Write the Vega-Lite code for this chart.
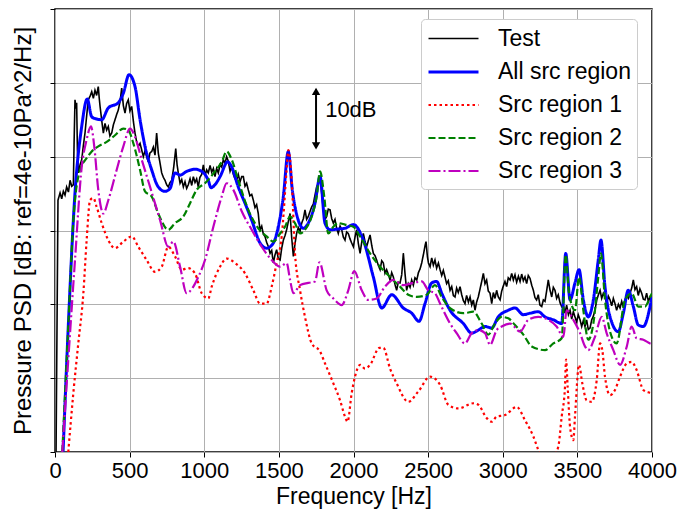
{
  "$schema": "https://vega.github.io/schema/vega-lite/v6.json",
  "width": 597,
  "height": 443,
  "autosize": {"type": "none"},
  "padding": {"left": 55, "top": 9, "right": 26, "bottom": 64},
  "background": "white",
  "config": {
    "font": "Liberation Sans",
    "view": {"stroke": "black", "strokeWidth": 1.5},
    "axis": {
      "gridColor": "#b0b0b0", "gridWidth": 1, "gridOpacity": 1,
      "tickColor": "black", "tickSize": 5, "tickWidth": 1,
      "domain": false,
      "labelFontSize": 22, "titleFontSize": 23,
      "labelColor": "black", "titleColor": "black",
      "titleFontWeight": "normal", "labelFont": "Liberation Sans", "titleFont": "Liberation Sans"
    },
    "legend": {
      "title": null, "orient": "none", "legendX": 366, "legendY": 10,
      "fillColor": "white", "strokeColor": "#cccccc", "cornerRadius": 4, "padding": 6,
      "labelFontSize": 23, "labelColor": "black", "labelFont": "Liberation Sans",
      "symbolType": "M-1,0H3", "symbolSize": 625, "labelOffset": 43, "rowPadding": 7,
      "symbolFillColor": "transparent"
    }
  },
  "datasets": {
    "test": [
      {"f":7,"v":0},{"f":20,"v":34.1},{"f":34,"v":35.1},{"f":45,"v":34.3},{"f":56,"v":35.3},{"f":67,"v":34.8},{"f":78,"v":35.9},{"f":90,"v":35.2},{"f":101,"v":36.8},{"f":112,"v":36.0},{"f":123,"v":36.2},{"f":128,"v":42.0},{"f":134,"v":47.7},{"f":140,"v":46.5},{"f":145,"v":47.3},{"f":150,"v":41.0},{"f":156,"v":37.8},{"f":168,"v":38.9},{"f":179,"v":39.6},{"f":190,"v":41.5},{"f":201,"v":43.2},{"f":212,"v":45.5},{"f":223,"v":47.7},{"f":235,"v":48.2},{"f":246,"v":48.8},{"f":257,"v":47.9},{"f":268,"v":49.0},{"f":279,"v":48.3},{"f":290,"v":49.5},{"f":296,"v":48.0},{"f":302,"v":46.8},{"f":313,"v":44.9},{"f":324,"v":43.2},{"f":335,"v":44.5},{"f":346,"v":43.6},{"f":357,"v":44.1},{"f":368,"v":42.8},{"f":380,"v":43.2},{"f":391,"v":44.3},{"f":402,"v":45.0},{"f":413,"v":45.7},{"f":424,"v":46.3},{"f":436,"v":47.5},{"f":447,"v":49.3},{"f":458,"v":46.9},{"f":469,"v":45.9},{"f":480,"v":47.2},{"f":491,"v":47.7},{"f":502,"v":46.2},{"f":514,"v":46.8},{"f":525,"v":44.8},{"f":536,"v":43.2},{"f":547,"v":42.0},{"f":558,"v":41.4},{"f":570,"v":41.8},{"f":581,"v":40.9},{"f":592,"v":40.0},{"f":603,"v":40.8},{"f":614,"v":40.0},{"f":625,"v":39.3},{"f":636,"v":40.5},{"f":648,"v":40.7},{"f":659,"v":41.3},{"f":670,"v":40.2},{"f":681,"v":43.2},{"f":692,"v":40.5},{"f":704,"v":39.1},{"f":715,"v":37.8},{"f":726,"v":37.2},{"f":737,"v":36.8},{"f":748,"v":36.2},{"f":759,"v":35.9},{"f":771,"v":36.5},{"f":782,"v":36.8},{"f":795,"v":38.5},{"f":809,"v":41.1},{"f":818,"v":38.9},{"f":826,"v":37.8},{"f":838,"v":36.4},{"f":849,"v":36.9},{"f":860,"v":35.9},{"f":871,"v":36.6},{"f":882,"v":35.7},{"f":893,"v":36.2},{"f":905,"v":37.0},{"f":916,"v":36.1},{"f":927,"v":37.3},{"f":938,"v":36.5},{"f":949,"v":37.0},{"f":960,"v":35.9},{"f":971,"v":37.2},{"f":983,"v":37.6},{"f":994,"v":38.9},{"f":1005,"v":37.4},{"f":1016,"v":38.2},{"f":1027,"v":37.8},{"f":1039,"v":38.8},{"f":1050,"v":37.9},{"f":1061,"v":38.4},{"f":1072,"v":37.3},{"f":1083,"v":38.4},{"f":1094,"v":37.8},{"f":1106,"v":38.9},{"f":1117,"v":38.6},{"f":1128,"v":39.6},{"f":1139,"v":39.1},{"f":1150,"v":40.0},{"f":1161,"v":39.4},{"f":1173,"v":38.0},{"f":1184,"v":38.6},{"f":1195,"v":37.6},{"f":1206,"v":37.0},{"f":1217,"v":36.8},{"f":1228,"v":37.6},{"f":1240,"v":36.6},{"f":1251,"v":37.3},{"f":1262,"v":37.3},{"f":1273,"v":36.0},{"f":1284,"v":36.4},{"f":1295,"v":35.5},{"f":1306,"v":34.7},{"f":1318,"v":34.9},{"f":1329,"v":34.1},{"f":1340,"v":33.1},{"f":1351,"v":33.5},{"f":1362,"v":32.3},{"f":1368,"v":31.0},{"f":1374,"v":30.1},{"f":1385,"v":30.6},{"f":1396,"v":29.5},{"f":1407,"v":29.2},{"f":1418,"v":28.4},{"f":1430,"v":27.8},{"f":1441,"v":26.9},{"f":1452,"v":27.3},{"f":1463,"v":25.6},{"f":1474,"v":26.7},{"f":1485,"v":27.4},{"f":1496,"v":26.2},{"f":1508,"v":26.0},{"f":1519,"v":27.6},{"f":1530,"v":28.7},{"f":1541,"v":29.3},{"f":1552,"v":30.1},{"f":1563,"v":31.2},{"f":1575,"v":32.3},{"f":1586,"v":29.0},{"f":1597,"v":26.5},{"f":1608,"v":28.2},{"f":1619,"v":29.6},{"f":1630,"v":30.4},{"f":1642,"v":29.9},{"f":1653,"v":31.0},{"f":1664,"v":31.6},{"f":1675,"v":32.8},{"f":1686,"v":31.5},{"f":1697,"v":31.9},{"f":1709,"v":32.6},{"f":1720,"v":33.2},{"f":1731,"v":33.6},{"f":1742,"v":34.8},{"f":1753,"v":35.9},{"f":1765,"v":36.4},{"f":1776,"v":37.3},{"f":1787,"v":35.0},{"f":1798,"v":32.8},{"f":1809,"v":31.5},{"f":1820,"v":31.9},{"f":1831,"v":32.9},{"f":1843,"v":32.8},{"f":1854,"v":31.6},{"f":1865,"v":31.0},{"f":1876,"v":31.5},{"f":1887,"v":30.3},{"f":1898,"v":29.6},{"f":1910,"v":30.6},{"f":1921,"v":30.1},{"f":1932,"v":29.1},{"f":1943,"v":28.7},{"f":1954,"v":29.8},{"f":1965,"v":29.6},{"f":1976,"v":28.9},{"f":1988,"v":28.3},{"f":1999,"v":27.8},{"f":2010,"v":29.1},{"f":2021,"v":30.1},{"f":2032,"v":28.3},{"f":2044,"v":26.9},{"f":2055,"v":28.4},{"f":2066,"v":29.6},{"f":2077,"v":28.5},{"f":2088,"v":27.8},{"f":2099,"v":28.6},{"f":2111,"v":29.4},{"f":2122,"v":28.0},{"f":2133,"v":26.9},{"f":2144,"v":26.6},{"f":2155,"v":26.0},{"f":2166,"v":25.3},{"f":2178,"v":24.7},{"f":2189,"v":25.9},{"f":2200,"v":25.6},{"f":2211,"v":24.2},{"f":2222,"v":24.7},{"f":2234,"v":24.0},{"f":2245,"v":23.3},{"f":2256,"v":24.3},{"f":2267,"v":23.7},{"f":2278,"v":22.7},{"f":2289,"v":21.9},{"f":2300,"v":23.0},{"f":2312,"v":22.9},{"f":2323,"v":24.0},{"f":2334,"v":26.9},{"f":2345,"v":24.2},{"f":2356,"v":21.9},{"f":2367,"v":22.8},{"f":2379,"v":22.3},{"f":2390,"v":23.3},{"f":2401,"v":22.6},{"f":2412,"v":23.6},{"f":2424,"v":23.3},{"f":2435,"v":24.3},{"f":2446,"v":24.8},{"f":2457,"v":25.6},{"f":2469,"v":26.8},{"f":2480,"v":28.0},{"f":2486,"v":28.5},{"f":2495,"v":26.5},{"f":2502,"v":25.6},{"f":2513,"v":25.1},{"f":2524,"v":26.3},{"f":2535,"v":25.3},{"f":2546,"v":26.0},{"f":2557,"v":24.9},{"f":2569,"v":25.6},{"f":2580,"v":24.7},{"f":2591,"v":23.9},{"f":2602,"v":24.6},{"f":2613,"v":23.7},{"f":2624,"v":22.8},{"f":2635,"v":23.2},{"f":2647,"v":21.9},{"f":2658,"v":22.4},{"f":2669,"v":21.2},{"f":2680,"v":21.0},{"f":2691,"v":22.2},{"f":2702,"v":21.6},{"f":2714,"v":22.4},{"f":2725,"v":21.3},{"f":2736,"v":20.5},{"f":2747,"v":20.1},{"f":2758,"v":21.2},{"f":2770,"v":20.3},{"f":2781,"v":21.0},{"f":2792,"v":19.9},{"f":2803,"v":20.6},{"f":2814,"v":19.2},{"f":2825,"v":20.3},{"f":2836,"v":21.0},{"f":2847,"v":22.0},{"f":2859,"v":23.1},{"f":2870,"v":24.2},{"f":2881,"v":22.8},{"f":2892,"v":23.3},{"f":2903,"v":21.8},{"f":2915,"v":21.5},{"f":2926,"v":20.1},{"f":2937,"v":21.6},{"f":2948,"v":20.8},{"f":2959,"v":21.9},{"f":2970,"v":21.0},{"f":2982,"v":20.6},{"f":2993,"v":21.8},{"f":3004,"v":22.5},{"f":3015,"v":23.1},{"f":3026,"v":22.4},{"f":3037,"v":23.6},{"f":3049,"v":23.3},{"f":3060,"v":24.2},{"f":3071,"v":23.3},{"f":3082,"v":24.0},{"f":3093,"v":23.0},{"f":3105,"v":23.8},{"f":3116,"v":23.1},{"f":3127,"v":24.1},{"f":3138,"v":23.2},{"f":3149,"v":23.7},{"f":3160,"v":22.8},{"f":3171,"v":23.9},{"f":3183,"v":23.5},{"f":3194,"v":22.6},{"f":3205,"v":21.9},{"f":3216,"v":20.9},{"f":3227,"v":20.6},{"f":3238,"v":21.3},{"f":3249,"v":19.9},{"f":3261,"v":19.7},{"f":3272,"v":20.6},{"f":3283,"v":20.4},{"f":3294,"v":21.8},{"f":3305,"v":23.3},{"f":3316,"v":22.0},{"f":3328,"v":21.0},{"f":3339,"v":22.3},{"f":3350,"v":21.9},{"f":3361,"v":20.8},{"f":3372,"v":21.3},{"f":3384,"v":20.2},{"f":3395,"v":19.7},{"f":3406,"v":19.9},{"f":3417,"v":18.8},{"f":3428,"v":19.9},{"f":3440,"v":18.6},{"f":3451,"v":19.2},{"f":3462,"v":18.0},{"f":3473,"v":19.0},{"f":3484,"v":18.3},{"f":3495,"v":17.6},{"f":3506,"v":18.6},{"f":3518,"v":17.9},{"f":3529,"v":17.0},{"f":3540,"v":17.8},{"f":3551,"v":17.0},{"f":3562,"v":17.9},{"f":3573,"v":16.6},{"f":3585,"v":16.8},{"f":3596,"v":17.9},{"f":3607,"v":18.4},{"f":3618,"v":19.2},{"f":3630,"v":20.6},{"f":3641,"v":21.3},{"f":3652,"v":21.9},{"f":3663,"v":20.8},{"f":3674,"v":21.5},{"f":3685,"v":21.0},{"f":3696,"v":20.1},{"f":3708,"v":21.1},{"f":3719,"v":20.6},{"f":3730,"v":19.8},{"f":3741,"v":20.8},{"f":3752,"v":20.1},{"f":3763,"v":19.2},{"f":3775,"v":20.0},{"f":3786,"v":19.5},{"f":3797,"v":20.4},{"f":3808,"v":19.6},{"f":3819,"v":20.6},{"f":3830,"v":21.2},{"f":3842,"v":20.8},{"f":3853,"v":21.5},{"f":3864,"v":22.2},{"f":3875,"v":23.3},{"f":3886,"v":22.0},{"f":3897,"v":22.4},{"f":3908,"v":21.2},{"f":3919,"v":22.1},{"f":3931,"v":21.5},{"f":3942,"v":20.7},{"f":3953,"v":20.6},{"f":3964,"v":21.5},{"f":3976,"v":20.4},{"f":3987,"v":21.0},{"f":4000,"v":20.6}
    ],
    "blue": [
      {"f":54,"v":0},{"f":89,"v":17.0},{"f":134,"v":35.1},{"f":179,"v":44.1},{"f":216,"v":47.8},{"f":246,"v":45.4},{"f":279,"v":45.1},{"f":313,"v":45.0},{"f":357,"v":46.6},{"f":424,"v":47.3},{"f":458,"v":48.6},{"f":496,"v":51.1},{"f":536,"v":49.5},{"f":570,"v":45.0},{"f":603,"v":41.4},{"f":648,"v":38.2},{"f":692,"v":35.9},{"f":737,"v":35.3},{"f":771,"v":35.7},{"f":804,"v":37.8},{"f":838,"v":37.5},{"f":882,"v":38.0},{"f":938,"v":38.3},{"f":983,"v":38.0},{"f":1027,"v":36.8},{"f":1045,"v":35.8},{"f":1072,"v":36.2},{"f":1106,"v":37.3},{"f":1157,"v":39.3},{"f":1184,"v":38.6},{"f":1228,"v":35.9},{"f":1273,"v":33.7},{"f":1318,"v":31.4},{"f":1374,"v":28.3},{"f":1418,"v":27.6},{"f":1463,"v":28.3},{"f":1496,"v":30.5},{"f":1530,"v":34.6},{"f":1563,"v":40.7},{"f":1590,"v":35.5},{"f":1630,"v":31.4},{"f":1664,"v":30.3},{"f":1697,"v":31.0},{"f":1742,"v":33.7},{"f":1776,"v":37.3},{"f":1809,"v":31.0},{"f":1843,"v":30.1},{"f":1898,"v":30.2},{"f":1943,"v":30.3},{"f":1999,"v":30.8},{"f":2066,"v":28.7},{"f":2133,"v":23.7},{"f":2189,"v":19.5},{"f":2256,"v":21.3},{"f":2334,"v":19.5},{"f":2390,"v":18.8},{"f":2439,"v":17.7},{"f":2479,"v":20.1},{"f":2524,"v":22.9},{"f":2557,"v":23.1},{"f":2591,"v":21.5},{"f":2647,"v":19.2},{"f":2736,"v":17.4},{"f":2792,"v":16.1},{"f":2836,"v":16.5},{"f":2881,"v":17.0},{"f":2926,"v":16.8},{"f":2970,"v":18.3},{"f":3037,"v":19.2},{"f":3082,"v":19.5},{"f":3138,"v":18.6},{"f":3183,"v":18.8},{"f":3238,"v":19.0},{"f":3283,"v":18.3},{"f":3339,"v":17.9},{"f":3395,"v":17.4},{"f":3422,"v":26.9},{"f":3451,"v":20.6},{"f":3484,"v":22.9},{"f":3511,"v":24.7},{"f":3540,"v":20.6},{"f":3573,"v":18.3},{"f":3607,"v":20.6},{"f":3640,"v":26.0},{"f":3658,"v":28.7},{"f":3685,"v":22.4},{"f":3719,"v":18.3},{"f":3774,"v":16.3},{"f":3808,"v":18.8},{"f":3841,"v":21.9},{"f":3875,"v":19.7},{"f":3908,"v":17.2},{"f":3942,"v":17.0},{"f":3987,"v":19.7},{"f":4000,"v":21.0}
    ],
    "red": [
      {"f":89,"v":0},{"f":123,"v":8.0},{"f":156,"v":14.7},{"f":190,"v":21.5},{"f":212,"v":28.7},{"f":235,"v":34.1},{"f":257,"v":34.4},{"f":279,"v":33.2},{"f":313,"v":31.0},{"f":357,"v":28.7},{"f":402,"v":27.6},{"f":458,"v":28.5},{"f":514,"v":29.2},{"f":558,"v":27.8},{"f":614,"v":26.0},{"f":670,"v":24.4},{"f":715,"v":25.1},{"f":759,"v":27.8},{"f":804,"v":26.5},{"f":849,"v":24.7},{"f":893,"v":24.9},{"f":938,"v":24.2},{"f":983,"v":21.5},{"f":1027,"v":20.8},{"f":1050,"v":22.4},{"f":1106,"v":25.1},{"f":1150,"v":26.2},{"f":1206,"v":25.6},{"f":1273,"v":24.2},{"f":1329,"v":21.9},{"f":1374,"v":20.1},{"f":1418,"v":20.1},{"f":1452,"v":22.4},{"f":1485,"v":25.6},{"f":1519,"v":29.2},{"f":1552,"v":38.2},{"f":1563,"v":40.9},{"f":1586,"v":36.8},{"f":1608,"v":26.9},{"f":1642,"v":21.9},{"f":1675,"v":18.3},{"f":1720,"v":14.7},{"f":1776,"v":13.6},{"f":1809,"v":12.0},{"f":1865,"v":9.3},{"f":1910,"v":7.0},{"f":1943,"v":4.8},{"f":1960,"v":4.1},{"f":1988,"v":8.0},{"f":2010,"v":10.2},{"f":2044,"v":11.8},{"f":2077,"v":11.3},{"f":2111,"v":11.8},{"f":2173,"v":14.1},{"f":2200,"v":14.1},{"f":2245,"v":11.3},{"f":2289,"v":9.3},{"f":2367,"v":6.8},{"f":2434,"v":8.2},{"f":2513,"v":10.2},{"f":2580,"v":9.1},{"f":2635,"v":6.4},{"f":2702,"v":5.9},{"f":2803,"v":6.6},{"f":2836,"v":6.4},{"f":2892,"v":4.6},{"f":2926,"v":4.1},{"f":2959,"v":4.8},{"f":3015,"v":5.0},{"f":3094,"v":6.1},{"f":3149,"v":4.3},{"f":3205,"v":2.1},{"f":3234,"v":0.5},{"f":3283,"v":-2},{"f":3330,"v":-1},{"f":3372,"v":0.7},{"f":3395,"v":4.8},{"f":3417,"v":8.8},{"f":3424,"v":12.5},{"f":3435,"v":8.8},{"f":3451,"v":3.4},{"f":3473,"v":1.6},{"f":3484,"v":4.8},{"f":3511,"v":11.8},{"f":3533,"v":9.3},{"f":3562,"v":7.0},{"f":3596,"v":6.8},{"f":3630,"v":9.8},{"f":3652,"v":14.7},{"f":3667,"v":13.8},{"f":3685,"v":10.2},{"f":3719,"v":7.7},{"f":3752,"v":8.4},{"f":3786,"v":10.2},{"f":3831,"v":12.0},{"f":3864,"v":12.2},{"f":3897,"v":11.1},{"f":3942,"v":8.4},{"f":3987,"v":8.0},{"f":4000,"v":7.9}
    ],
    "green": [
      {"f":49,"v":0},{"f":89,"v":17.0},{"f":123,"v":31.4},{"f":168,"v":38.2},{"f":212,"v":39.8},{"f":246,"v":40.7},{"f":290,"v":41.4},{"f":346,"v":42.0},{"f":402,"v":42.9},{"f":458,"v":43.8},{"f":491,"v":43.6},{"f":525,"v":41.8},{"f":570,"v":38.2},{"f":603,"v":35.3},{"f":648,"v":34.6},{"f":692,"v":32.3},{"f":759,"v":30.1},{"f":804,"v":31.0},{"f":860,"v":31.9},{"f":905,"v":33.7},{"f":949,"v":35.5},{"f":1005,"v":36.4},{"f":1072,"v":38.0},{"f":1117,"v":39.3},{"f":1150,"v":40.7},{"f":1184,"v":39.6},{"f":1228,"v":36.8},{"f":1295,"v":32.8},{"f":1362,"v":30.3},{"f":1418,"v":29.2},{"f":1463,"v":28.5},{"f":1508,"v":29.6},{"f":1541,"v":30.5},{"f":1575,"v":31.9},{"f":1608,"v":31.0},{"f":1642,"v":29.6},{"f":1675,"v":30.1},{"f":1720,"v":31.9},{"f":1753,"v":34.6},{"f":1776,"v":38.0},{"f":1804,"v":34.6},{"f":1831,"v":29.6},{"f":1865,"v":30.5},{"f":1898,"v":31.0},{"f":1943,"v":30.8},{"f":1999,"v":30.5},{"f":2044,"v":29.2},{"f":2111,"v":26.9},{"f":2178,"v":25.1},{"f":2245,"v":23.7},{"f":2312,"v":22.4},{"f":2367,"v":21.3},{"f":2424,"v":21.0},{"f":2491,"v":21.3},{"f":2546,"v":22.6},{"f":2591,"v":21.0},{"f":2647,"v":19.5},{"f":2736,"v":18.8},{"f":2803,"v":19.0},{"f":2859,"v":17.4},{"f":2903,"v":15.9},{"f":2948,"v":17.4},{"f":2993,"v":18.3},{"f":3037,"v":18.1},{"f":3082,"v":17.2},{"f":3138,"v":15.9},{"f":3194,"v":14.3},{"f":3283,"v":13.8},{"f":3339,"v":14.7},{"f":3395,"v":15.4},{"f":3422,"v":26.7},{"f":3444,"v":21.5},{"f":3484,"v":19.2},{"f":3511,"v":23.7},{"f":3540,"v":19.2},{"f":3573,"v":15.2},{"f":3607,"v":17.4},{"f":3640,"v":23.7},{"f":3658,"v":26.9},{"f":3685,"v":20.6},{"f":3719,"v":16.3},{"f":3763,"v":14.7},{"f":3819,"v":20.6},{"f":3864,"v":21.5},{"f":3908,"v":19.7},{"f":3953,"v":19.7},{"f":3987,"v":21.0},{"f":4000,"v":21.5}
    ],
    "magenta": [
      {"f":49,"v":0},{"f":89,"v":12.5},{"f":134,"v":26.0},{"f":179,"v":38.6},{"f":212,"v":42.3},{"f":241,"v":44.1},{"f":263,"v":41.4},{"f":290,"v":35.5},{"f":324,"v":32.3},{"f":357,"v":34.1},{"f":413,"v":38.2},{"f":458,"v":41.4},{"f":503,"v":43.8},{"f":536,"v":42.7},{"f":581,"v":39.6},{"f":637,"v":35.9},{"f":704,"v":31.4},{"f":759,"v":27.8},{"f":793,"v":28.5},{"f":838,"v":25.1},{"f":882,"v":21.5},{"f":927,"v":22.4},{"f":960,"v":23.7},{"f":1005,"v":26.0},{"f":1061,"v":30.5},{"f":1117,"v":34.6},{"f":1150,"v":36.4},{"f":1195,"v":35.5},{"f":1251,"v":32.6},{"f":1318,"v":30.1},{"f":1385,"v":27.8},{"f":1452,"v":26.0},{"f":1508,"v":25.1},{"f":1552,"v":25.6},{"f":1575,"v":23.3},{"f":1597,"v":21.5},{"f":1642,"v":22.6},{"f":1697,"v":22.9},{"f":1742,"v":23.1},{"f":1772,"v":25.7},{"f":1820,"v":21.9},{"f":1865,"v":20.8},{"f":1921,"v":19.9},{"f":1965,"v":21.9},{"f":2005,"v":24.5},{"f":2055,"v":21.9},{"f":2099,"v":20.6},{"f":2155,"v":20.8},{"f":2211,"v":22.4},{"f":2267,"v":23.3},{"f":2334,"v":22.6},{"f":2401,"v":22.9},{"f":2457,"v":23.1},{"f":2501,"v":21.9},{"f":2546,"v":21.5},{"f":2580,"v":20.1},{"f":2647,"v":17.4},{"f":2691,"v":16.1},{"f":2747,"v":14.7},{"f":2792,"v":16.1},{"f":2836,"v":16.5},{"f":2881,"v":16.1},{"f":2915,"v":14.5},{"f":2959,"v":16.5},{"f":2993,"v":17.0},{"f":3049,"v":17.4},{"f":3116,"v":16.3},{"f":3171,"v":17.9},{"f":3238,"v":18.3},{"f":3305,"v":17.9},{"f":3361,"v":17.0},{"f":3406,"v":15.6},{"f":3428,"v":19.2},{"f":3473,"v":17.9},{"f":3518,"v":16.1},{"f":3551,"v":14.3},{"f":3573,"v":13.8},{"f":3618,"v":15.6},{"f":3663,"v":18.3},{"f":3696,"v":16.1},{"f":3741,"v":13.8},{"f":3786,"v":11.8},{"f":3831,"v":14.3},{"f":3864,"v":17.0},{"f":3897,"v":15.4},{"f":3942,"v":15.2},{"f":3987,"v":14.7},{"f":4000,"v":14.6}
    ],
    "arrow": [{"f":1749,"v":41.2,"v2":49.1}],
    "heads": [{"f":1749,"v":48.85,"sh":"triangle-up"},{"f":1749,"v":41.45,"sh":"triangle-down"}],
    "note": [{"f":1810,"v":46.3,"t":"10dB"}]
  },
  "encoding": {
    "x": {"field": "f", "type": "quantitative", "scale": {"domain": [0, 4000], "nice": false},
      "axis": {"values": [0,500,1000,1500,2000,2500,3000,3500,4000], "format": "d", "title": "Frequency [Hz]", "labelPadding": 3, "titlePadding": 4, "labelFlush": false, "labelOverlap": false}},
    "y": {"field": "v", "type": "quantitative", "scale": {"domain": [0, 60], "nice": false},
      "axis": {"values": [0,10,20,30,40,50,60], "labels": false, "title": "Pressure PSD [dB: ref=4e-10Pa^2/Hz]", "titleFontSize": 24, "titlePadding": 14}}
  },
  "layer": [
    {
      "data": {"name": "test"},
      "transform": [{"calculate": "'Test'", "as": "s"}],
      "mark": {"type": "line", "clip": true, "interpolate": "linear"},
      "encoding": {
        "color": {"field": "s", "type": "nominal", "scale": {"domain": ["Test","All src region","Src region 1","Src region 2","Src region 3"], "range": ["#000000","#0000ff","#ff0000","#008000","#bf00bf"]}},
        "strokeDash": {"field": "s", "type": "nominal", "scale": {"domain": ["Test","All src region","Src region 1","Src region 2","Src region 3"], "range": [[1,0],[1,0],[2.5,3],[7,3],[12,3,2,3]]}},
        "strokeWidth": {"field": "s", "type": "nominal", "scale": {"type": "ordinal", "domain": ["Test","All src region","Src region 1","Src region 2","Src region 3"], "range": [1.6,3,2.2,2.2,2.2]}}
      }
    },
    {
      "data": {"name": "blue"},
      "transform": [{"calculate": "'All src region'", "as": "s"}],
      "mark": {"type": "line", "clip": true, "interpolate": "monotone"},
      "encoding": {
        "color": {"field": "s", "type": "nominal"},
        "strokeDash": {"field": "s", "type": "nominal"},
        "strokeWidth": {"field": "s", "type": "nominal", "scale": {"type": "ordinal"}}
      }
    },
    {
      "data": {"name": "red"},
      "transform": [{"calculate": "'Src region 1'", "as": "s"}],
      "mark": {"type": "line", "clip": true, "interpolate": "monotone"},
      "encoding": {
        "color": {"field": "s", "type": "nominal"},
        "strokeDash": {"field": "s", "type": "nominal"},
        "strokeWidth": {"field": "s", "type": "nominal", "scale": {"type": "ordinal"}}
      }
    },
    {
      "data": {"name": "green"},
      "transform": [{"calculate": "'Src region 2'", "as": "s"}],
      "mark": {"type": "line", "clip": true, "interpolate": "monotone"},
      "encoding": {
        "color": {"field": "s", "type": "nominal"},
        "strokeDash": {"field": "s", "type": "nominal"},
        "strokeWidth": {"field": "s", "type": "nominal", "scale": {"type": "ordinal"}}
      }
    },
    {
      "data": {"name": "magenta"},
      "transform": [{"calculate": "'Src region 3'", "as": "s"}],
      "mark": {"type": "line", "clip": true, "interpolate": "monotone"},
      "encoding": {
        "color": {"field": "s", "type": "nominal"},
        "strokeDash": {"field": "s", "type": "nominal"},
        "strokeWidth": {"field": "s", "type": "nominal", "scale": {"type": "ordinal"}}
      }
    },
    {
      "data": {"name": "arrow"},
      "mark": {"type": "rule", "color": "black", "strokeWidth": 2},
      "encoding": {"y2": {"field": "v2"}}
    },
    {
      "data": {"name": "heads"},
      "mark": {"type": "point", "filled": true, "color": "black", "opacity": 1, "size": 70},
      "encoding": {"shape": {"field": "sh", "type": "nominal", "scale": null}}
    },
    {
      "data": {"name": "note"},
      "mark": {"type": "text", "align": "left", "baseline": "middle", "fontSize": 22, "color": "black"},
      "encoding": {"text": {"field": "t"}}
    }
  ]
}
